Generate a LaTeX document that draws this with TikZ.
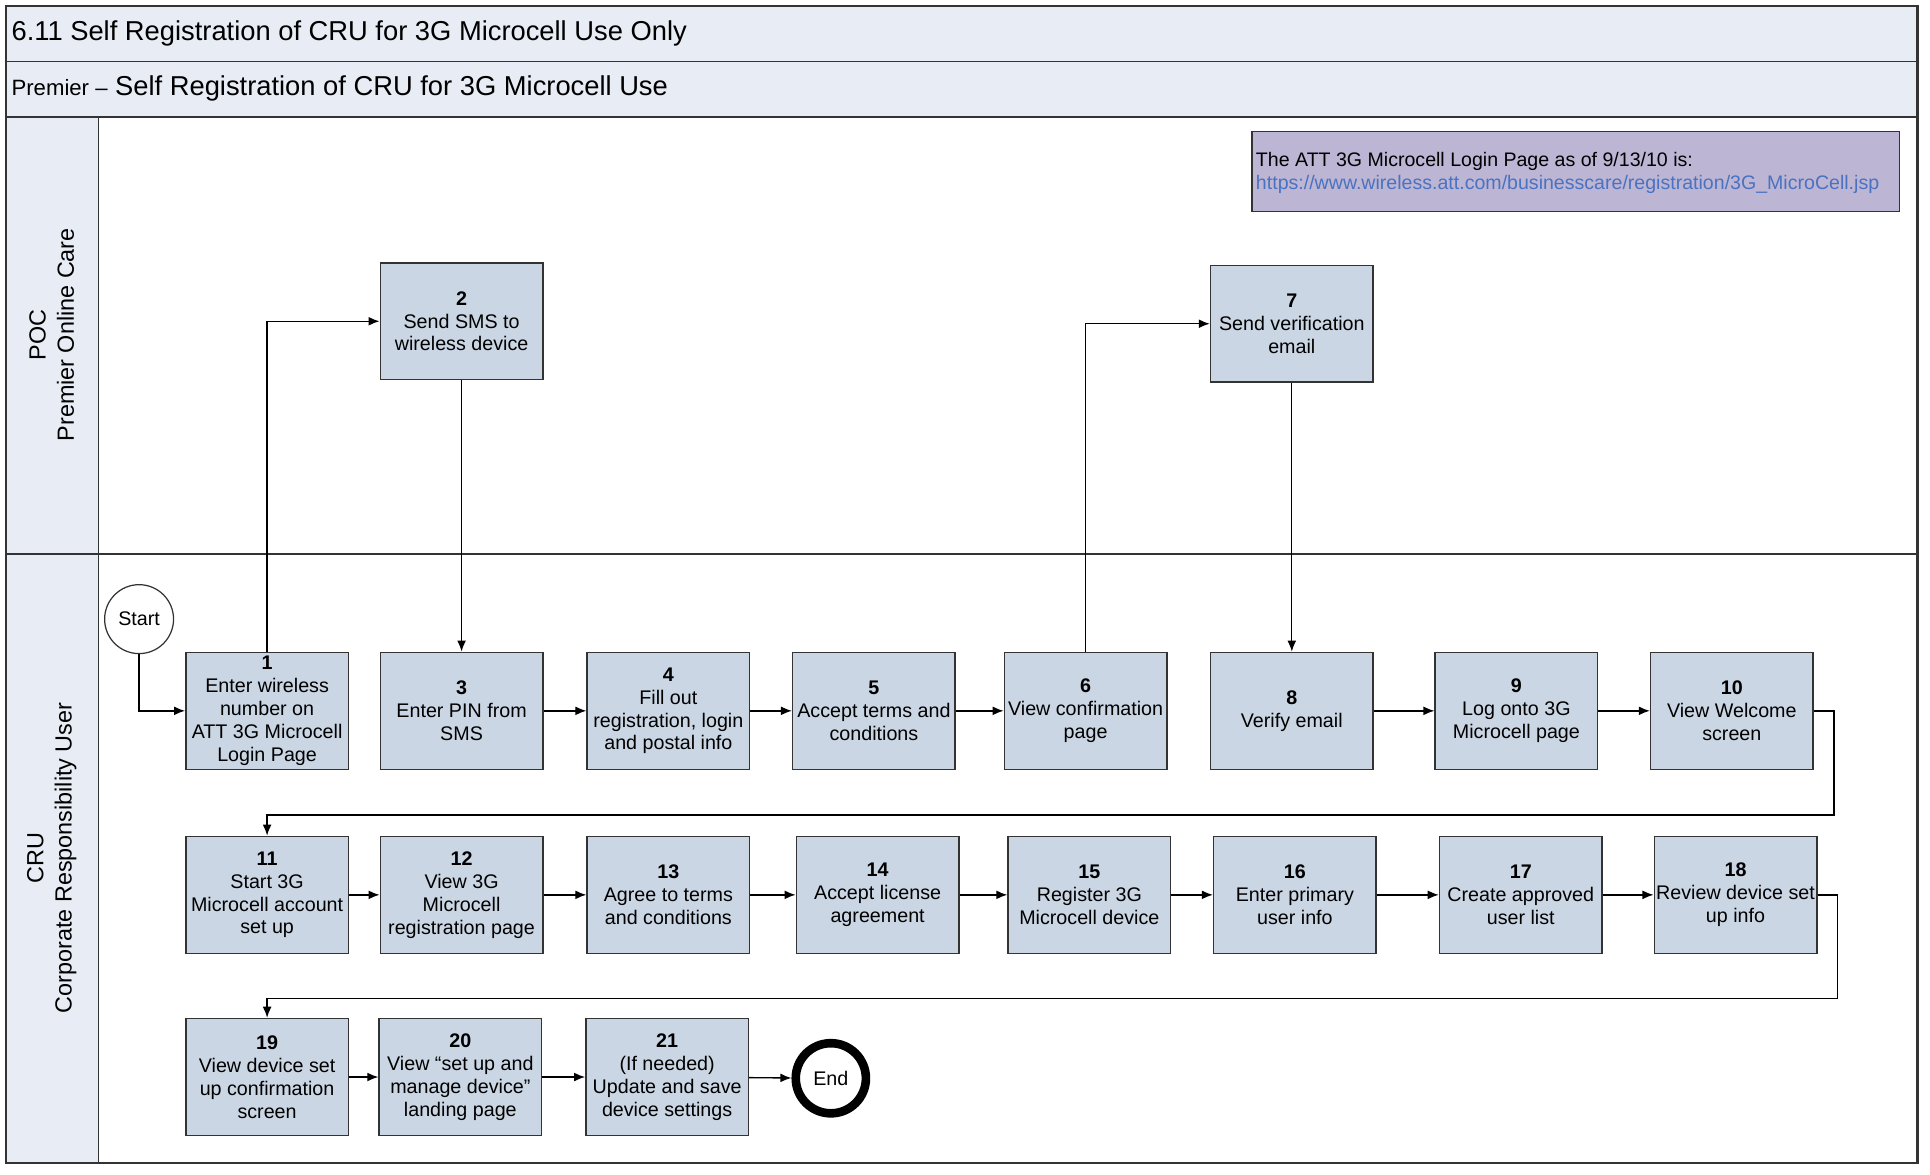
\documentclass[tikz,border=0pt]{standalone}
\usepackage{fontspec}
\setmainfont{Liberation Sans}
\usetikzlibrary{arrows.meta}
\definecolor{hdrfill}{HTML}{E8ECF5}
\definecolor{boxfill}{HTML}{CBD6E4}
\definecolor{notefill}{HTML}{BDB5D4}
\definecolor{linkblue}{HTML}{4A72C0}
\definecolor{frame}{HTML}{333333}
\tikzset{
  proc/.style={draw=frame, fill=boxfill, line width=0.6pt, minimum width=66pt, minimum height=47.5pt,
    inner sep=0pt, align=center, font=\fontsize{8}{9.3}\selectfont},
  arr/.style={draw=black, line width=0.55pt, -{Latex[length=4.5pt,width=3.6pt]}},
  startnode/.style={draw=frame, fill=white, circle, minimum size=28pt, inner sep=0pt, line width=0.5pt,
    font=\fontsize{8}{9.3}\selectfont},
  endnode/.style={draw=black, fill=white, circle, minimum size=28.5pt, inner sep=0pt, line width=3.5pt,
    font=\fontsize{8}{9.3}\selectfont},
  lanelabel/.style={rotate=90, align=center, font=\fontsize{9.5}{11.5}\selectfont},
}
\begin{document}
\begin{tikzpicture}[x=0.5pt, y=-0.5pt]
\path[use as bounding box] (0,0) rectangle (1568,954);
% bands and lane header column
\fill[hdrfill] (5,5) rectangle (1558,95);
\fill[hdrfill] (5,95) rectangle (80,945);
\draw[frame, line width=0.6pt] (5,50) -- (1558,50);
\draw[frame, line width=0.6pt] (5,95) -- (1558,95);
\draw[frame, line width=0.6pt] (5,450) -- (1558,450);
\draw[frame, line width=0.6pt] (80,95) -- (80,945);
\draw[frame, line width=1pt] (5,5) rectangle (1558,945);
\node[anchor=west, inner sep=0pt, font=\fontsize{11.1}{13}\selectfont] (title) at (9,27)
  {6.11 Self Registration of CRU for 3G Microcell Use Only};
\node[anchor=west, inner sep=0pt, font=\fontsize{11.1}{13}\selectfont] (subtitle) at (9,72)
  {{\fontsize{9}{10}\selectfont Premier –} Self Registration of CRU for 3G Microcell Use};
\node[lanelabel] (poc) at (42,272) {POC\\Premier Online Care};
\node[lanelabel] (cru) at (42,697) {CRU\\Corporate Responsibility User};
% note
\node[draw=frame, fill=notefill, line width=0.6pt, minimum width=263pt, minimum height=32.5pt, inner sep=0pt]
  (note) at (1280,139.5) {};
\node[anchor=north west, inner sep=0pt, align=left, font=\fontsize{7.95}{9.6}\selectfont] (notetext) at (1020,123)
  {The ATT 3G Microcell Login Page as of 9/13/10 is:\\
   \textcolor{linkblue}{https://www.wireless.att.com/businesscare/registration/3G\_MicroCell.jsp}};
% POC boxes
\node[proc] (b2) at (375,261) {\textbf{2}\\Send SMS to\\wireless device};
\node[proc] (b7) at (1049.5,263) {\textbf{7}\\Send verification\\email};
% row 1
\node[startnode] (start) at (113,503) {Start};
\node[proc] (b1) at (217,577.5) {\textbf{1}\\Enter wireless\\number on\\ATT 3G Microcell\\Login Page};
\node[proc] (b3) at (375,577.5) {\textbf{3}\\Enter PIN from\\SMS};
\node[proc] (b4) at (543,577.5) {\textbf{4}\\Fill out\\registration, login\\and postal info};
\node[proc] (b5) at (710,577.5) {\textbf{5}\\Accept terms and\\conditions};
\node[proc] (b6) at (882,577.5) {\textbf{6}\\View confirmation\\page};
\node[proc] (b8) at (1049.5,577.5) {\textbf{8}\\Verify email};
\node[proc] (b9) at (1232,577.5) {\textbf{9}\\Log onto 3G\\Microcell page};
\node[proc] (b10) at (1407,577.5) {\textbf{10}\\View Welcome\\screen};
% row 2
\node[proc] (b11) at (217,727) {\textbf{11}\\Start 3G\\Microcell account\\set up};
\node[proc] (b12) at (375,727) {\textbf{12}\\View 3G\\Microcell\\registration page};
\node[proc] (b13) at (543,727) {\textbf{13}\\Agree to terms\\and conditions};
\node[proc] (b14) at (713,727) {\textbf{14}\\Accept license\\agreement};
\node[proc] (b15) at (885,727) {\textbf{15}\\Register 3G\\Microcell device};
\node[proc] (b16) at (1052,727) {\textbf{16}\\Enter primary\\user info};
\node[proc] (b17) at (1235.5,727) {\textbf{17}\\Create approved\\user list};
\node[proc] (b18) at (1410,727) {\textbf{18}\\Review device set\\up info};
% row 3
\node[proc] (b19) at (217,875) {\textbf{19}\\View device set\\up confirmation\\screen};
\node[proc] (b20) at (374,875) {\textbf{20}\\View “set up and\\manage device”\\landing page};
\node[proc] (b21) at (542,875) {\textbf{21}\\(If needed)\\Update and save\\device settings};
\node[endnode] (end) at (675,876) {End};
% connectors
\coordinate (t1) at (1490,662);
\coordinate (t2) at (1493,811);
\draw[arr] (start.south) |- (b1.west);
\draw[arr] (b1.north) |- (b2.west);
\draw[arr] (b2.south) -- (b3.north);
\draw[arr] (b3) -- (b4);
\draw[arr] (b4) -- (b5);
\draw[arr] (b5) -- (b6);
\draw[arr] (b6.north) |- (b7.west);
\draw[arr] (b7.south) -- (b8.north);
\draw[arr] (b8) -- (b9);
\draw[arr] (b9) -- (b10);
\draw[arr] (b10.east) -| (t1) -| (b11.north);
\draw[arr] (b11) -- (b12);
\draw[arr] (b12) -- (b13);
\draw[arr] (b13) -- (b14);
\draw[arr] (b14) -- (b15);
\draw[arr] (b15) -- (b16);
\draw[arr] (b16) -- (b17);
\draw[arr] (b17) -- (b18);
\draw[arr] (b18.east) -| (t2) -| (b19.north);
\draw[arr] (b19) -- (b20);
\draw[arr] (b20) -- (b21);
\draw[arr] (b21) -- (end);
\end{tikzpicture}
\end{document}
